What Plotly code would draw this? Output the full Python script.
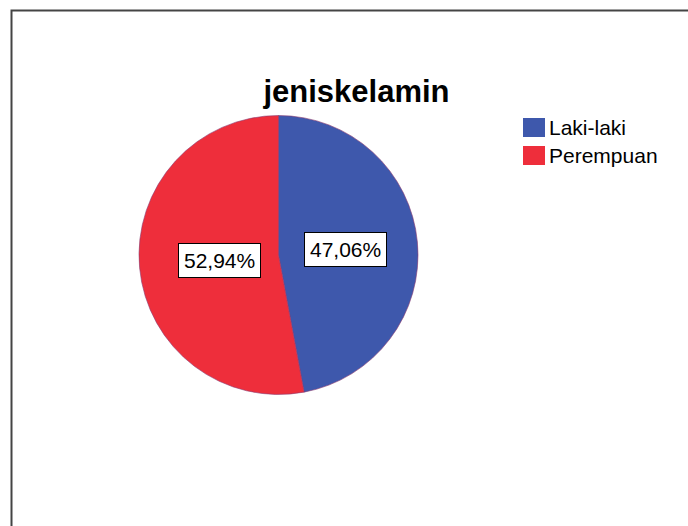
import math
import plotly.graph_objects as go

# ---- data ----
categories = ["Laki-laki", "Perempuan"]
percentages = [47.06, 52.94]
colors = ["#3e58ac", "#ee2e3b"]
title_text = "jeniskelamin"

W, H = 688, 526
FONT = "Liberation Sans, Arial, sans-serif"


def fx(px):
    return px / W


def fy(py):
    return 1 - py / H


# pie geometry (window pixels)
cx, cy, R = 278.5, 255.0, 139.5
dom_x = [fx(cx - R), fx(cx + R)]
dom_y = [fy(cy + R), fy(cy - R)]

fig = go.Figure(go.Pie(
    labels=categories,
    values=percentages,
    sort=False,
    direction="clockwise",
    rotation=0,
    marker=dict(colors=colors, line=dict(color="#8a3a70", width=0.6)),
    textinfo="none",
    hoverinfo="label+percent",
    domain=dict(x=dom_x, y=dom_y),
    showlegend=False,
))

# percentage labels in boxes, placed at each slice's mid-angle
annotations = []
total = sum(percentages)
cum = 0.0
label_frac = 0.45
label_dx = 4
for cat, v in zip(categories, percentages):
    mid = (cum + v / 2) / total * 2 * math.pi
    cum += v
    px = cx + label_frac * R * math.sin(mid) + label_dx
    py = cy - label_frac * R * math.cos(mid)
    txt = f"{v:.2f}".replace(".", ",") + "%"
    annotations.append(dict(
        x=fx(px), y=fy(py), xref="paper", yref="paper",
        text=txt, showarrow=False,
        font=dict(family=FONT, size=21, color="#000000"),
        bgcolor="#ffffff", bordercolor="#000000", borderwidth=1, borderpad=5,
        xanchor="center", yanchor="middle",
    ))

# legend (manual, to match the large swatches)
shapes = []
leg_x0, leg_y0, row_h, sw_w, sw_h = 523, 118, 28, 22, 19
for i, (cat, col) in enumerate(zip(categories, colors)):
    top = leg_y0 + i * row_h
    shapes.append(dict(type="rect", xref="paper", yref="paper",
                       x0=fx(leg_x0), x1=fx(leg_x0 + sw_w),
                       y0=fy(top + sw_h), y1=fy(top),
                       fillcolor=col, line=dict(width=0)))
    annotations.append(dict(
        x=fx(leg_x0 + sw_w + 2), y=fy(top + sw_h / 2),
        xref="paper", yref="paper", text=cat, showarrow=False,
        font=dict(family=FONT, size=21, color="#000000"),
        xanchor="left", yanchor="middle",
    ))

# outer frame (extends past right/bottom edges)
shapes.append(dict(type="rect", xref="paper", yref="paper",
                   x0=fx(11.5), x1=1.1, y0=-0.1, y1=fy(10.5),
                   line=dict(color="#444444", width=2), fillcolor="rgba(0,0,0,0)"))

fig.update_layout(
    width=W, height=H,
    margin=dict(l=0, r=0, t=0, b=0),
    paper_bgcolor="#ffffff", plot_bgcolor="#ffffff",
    title=dict(text=title_text, x=fx(356.5), xanchor="center",
               y=fy(91), yanchor="middle", xref="paper", yref="paper",
               font=dict(family=FONT, size=31, color="#000000", weight="bold")),
    annotations=annotations,
    shapes=shapes,
    showlegend=False,
)

fig.write_html(
    "out.html",
    config={"displayModeBar": False},
    post_script="document.body.style.margin='0';document.body.style.overflow='hidden';",
)
